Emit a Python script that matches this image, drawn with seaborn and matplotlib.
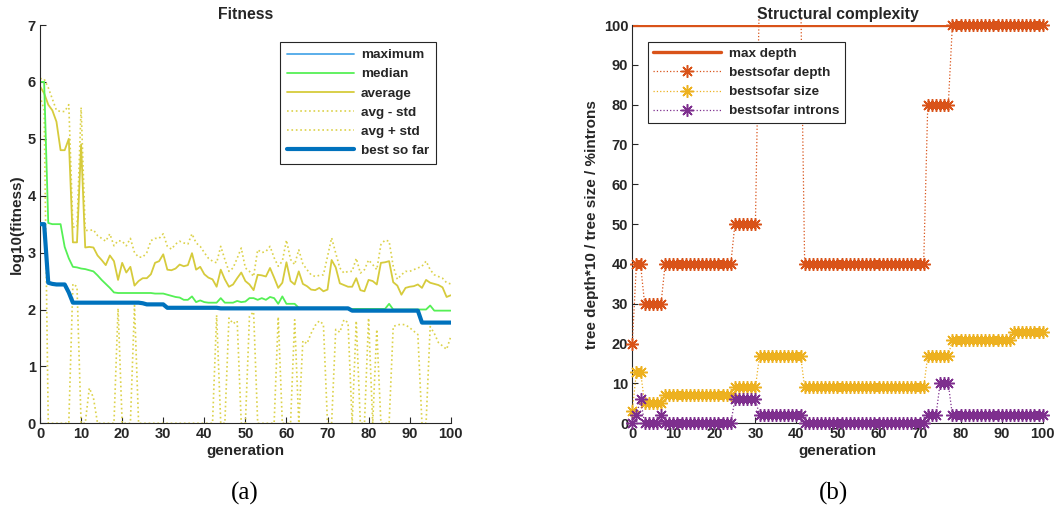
import matplotlib
matplotlib.use("Agg")
import matplotlib.pyplot as plt
from matplotlib.transforms import Bbox, TransformedBbox
import seaborn as sns
import pandas as pd

# ---------------- data ----------------
generation = list(range(101))

best_so_far = [3.50, 3.50, 2.47, 2.45, 2.44, 2.44, 2.44, 2.30, 2.12, 2.12,
               2.12, 2.12, 2.12, 2.12, 2.12, 2.12, 2.12, 2.12, 2.12, 2.12,
               2.12, 2.12, 2.12, 2.12, 2.12, 2.11, 2.09, 2.09, 2.09, 2.09,
               2.09, 2.03, 2.03, 2.03, 2.03, 2.03, 2.03, 2.03, 2.03, 2.03,
               2.03, 2.03, 2.03, 2.03, 2.02, 2.02, 2.02, 2.02, 2.02, 2.02,
               2.02, 2.02, 2.02, 2.02, 2.02, 2.02, 2.02, 2.02, 2.02, 2.02,
               2.02, 2.02, 2.02, 2.02, 2.02, 2.02, 2.02, 2.02, 2.02, 2.02,
               2.02, 2.02, 2.02, 2.02, 2.02, 2.02, 1.98, 1.98, 1.98, 1.98,
               1.98, 1.98, 1.98, 1.98, 1.98, 1.98, 1.98, 1.98, 1.98, 1.98,
               1.98, 1.98, 1.98, 1.77, 1.77, 1.77, 1.77, 1.77, 1.77, 1.77,
               1.77]

maximum = best_so_far

median = [6.00, 6.00, 3.52, 3.50, 3.50, 3.50, 3.10, 2.90, 2.75, 2.74,
          2.72, 2.71, 2.69, 2.67, 2.60, 2.52, 2.45, 2.38, 2.30, 2.29,
          2.29, 2.29, 2.29, 2.29, 2.29, 2.29, 2.29, 2.29, 2.28, 2.28,
          2.28, 2.26, 2.24, 2.22, 2.21, 2.17, 2.17, 2.23, 2.13, 2.16,
          2.13, 2.12, 2.12, 2.12, 2.20, 2.12, 2.12, 2.12, 2.15, 2.13,
          2.14, 2.20, 2.20, 2.17, 2.20, 2.17, 2.22, 2.20, 2.10, 2.23,
          2.10, 2.10, 2.10, 2.03, 2.03, 2.03, 2.03, 2.03, 2.03, 2.03,
          2.03, 2.03, 2.03, 2.03, 2.03, 2.01, 2.01, 2.01, 2.01, 2.01,
          2.01, 2.01, 2.01, 2.01, 2.01, 2.10, 2.00, 2.00, 2.00, 2.00,
          2.00, 2.00, 2.00, 2.00, 2.00, 2.07, 1.98, 1.98, 1.98, 1.98,
          1.98]

average = [5.92, 5.80, 5.60, 5.50, 5.30, 4.80, 4.80, 5.00, 3.18, 3.18,
           4.90, 3.09, 3.10, 3.09, 2.95, 2.87, 2.78, 2.95, 2.85, 2.52,
           2.82, 2.65, 2.75, 2.42, 2.50, 2.55, 2.55, 2.62, 2.82, 2.85,
           2.97, 2.70, 2.69, 2.72, 2.79, 2.76, 2.78, 2.99, 2.70, 2.75,
           2.62, 2.56, 2.53, 2.40, 2.70, 2.53, 2.40, 2.44, 2.55, 2.65,
           2.50, 2.44, 2.34, 2.61, 2.60, 2.58, 2.73, 2.56, 2.38, 2.47,
           2.83, 2.50, 2.44, 2.67, 2.45, 2.41, 2.35, 2.34, 2.38, 2.32,
           2.35, 2.87, 2.74, 2.46, 2.43, 2.40, 2.40, 2.55, 2.34, 2.32,
           2.52, 2.50, 2.44, 2.82, 2.83, 2.85, 2.48, 2.42, 2.26, 2.38,
           2.40, 2.41, 2.44, 2.38, 2.52, 2.47, 2.45, 2.43, 2.39, 2.22,
           2.25]

avg_plus_std = [6.06, 6.05, 5.90, 5.70, 5.50, 5.48, 5.48, 5.60, 3.45, 3.45,
                5.55, 3.39, 3.39, 3.40, 3.30, 3.25, 3.20, 3.33, 3.12, 3.21,
                3.20, 3.12, 3.25, 3.00, 2.92, 2.92, 3.00, 3.21, 3.25, 3.25,
                3.33, 3.11, 3.06, 3.15, 3.20, 3.17, 3.15, 3.33, 3.17, 3.11,
                3.00, 2.90, 2.85, 2.82, 3.11, 2.88, 2.67, 2.73, 2.90, 3.08,
                2.73, 2.67, 2.58, 3.05, 3.00, 3.02, 3.11, 2.91, 2.76, 2.85,
                3.22, 2.88, 2.79, 3.05, 2.80, 2.70, 2.61, 2.58, 2.60, 2.61,
                2.93, 3.26, 2.99, 2.73, 2.64, 2.67, 2.67, 2.90, 2.64, 2.70,
                2.87, 2.79, 2.70, 3.14, 3.22, 3.20, 2.76, 2.53, 2.61, 2.67,
                2.67, 2.70, 2.73, 2.76, 2.85, 2.70, 2.61, 2.58, 2.55, 2.47,
                2.45]

avg_minus_std = [5.75, 5.50, 0.00, 0.00, 0.00, 0.00, 0.00, 0.00, 2.45, 2.40,
                 0.00, 0.00, 0.62, 0.45, 0.00, 0.00, 0.00, 0.00, 0.00, 2.02,
                 0.00, 0.00, 0.00, 2.07, 0.00, 0.00, 0.00, 0.00, 0.00, 0.00,
                 0.00, 0.00, 0.00, 0.00, 0.00, 0.00, 0.00, 0.00, 0.00, 0.00,
                 0.00, 0.00, 0.00, 1.90, 0.00, 0.00, 1.85, 1.75, 1.80, 0.00,
                 0.00, 1.88, 1.96, 0.00, 0.00, 0.00, 0.00, 0.00, 1.87, 0.00,
                 0.00, 0.00, 1.82, 0.00, 1.45, 1.40, 1.58, 1.72, 1.80, 1.74,
                 0.00, 0.00, 1.65, 1.60, 1.82, 1.77, 0.00, 1.80, 0.00, 0.00,
                 1.85, 0.00, 1.65, 0.00, 0.00, 0.00, 1.70, 1.73, 1.74, 1.73,
                 1.68, 1.62, 1.56, 0.00, 0.00, 1.70, 1.58, 1.42, 1.36, 1.30,
                 1.52]

max_depth = [100, 100, 100, 100, 100, 100, 100, 100, 100, 100,
             100, 100, 100, 100, 100, 100, 100, 100, 100, 100,
             100, 100, 100, 100, 100, 100, 100, 100, 100, 100,
             100, 100, 100, 100, 100, 100, 100, 100, 100, 100,
             100, 100, 100, 100, 100, 100, 100, 100, 100, 100,
             100, 100, 100, 100, 100, 100, 100, 100, 100, 100,
             100, 100, 100, 100, 100, 100, 100, 100, 100, 100,
             100, 100, 100, 100, 100, 100, 100, 100, 100, 100,
             100, 100, 100, 100, 100, 100, 100, 100, 100, 100,
             100, 100, 100, 100, 100, 100, 100, 100, 100, 100,
             100]

bestsofar_depth = [20, 40, 40, 30, 30, 30, 30, 30, 40, 40,
                   40, 40, 40, 40, 40, 40, 40, 40, 40, 40,
                   40, 40, 40, 40, 40, 50, 50, 50, 50, 50,
                   50, 110, 110, 110, 110, 110, 110, 110, 110, 110,
                   110, 110, 40, 40, 40, 40, 40, 40, 40, 40,
                   40, 40, 40, 40, 40, 40, 40, 40, 40, 40,
                   40, 40, 40, 40, 40, 40, 40, 40, 40, 40,
                   40, 40, 80, 80, 80, 80, 80, 80, 100, 100,
                   100, 100, 100, 100, 100, 100, 100, 100, 100, 100,
                   100, 100, 100, 100, 100, 100, 100, 100, 100, 100,
                   100]

bestsofar_size = [3, 13, 13, 5, 5, 5, 5, 5, 7, 7,
                  7, 7, 7, 7, 7, 7, 7, 7, 7, 7,
                  7, 7, 7, 7, 7, 9, 9, 9, 9, 9,
                  9, 17, 17, 17, 17, 17, 17, 17, 17, 17,
                  17, 17, 9, 9, 9, 9, 9, 9, 9, 9,
                  9, 9, 9, 9, 9, 9, 9, 9, 9, 9,
                  9, 9, 9, 9, 9, 9, 9, 9, 9, 9,
                  9, 9, 17, 17, 17, 17, 17, 17, 21, 21,
                  21, 21, 21, 21, 21, 21, 21, 21, 21, 21,
                  21, 21, 21, 23, 23, 23, 23, 23, 23, 23,
                  23]

bestsofar_introns = [0, 2, 6, 0, 0, 0, 0, 2, 0, 0,
                     0, 0, 0, 0, 0, 0, 0, 0, 0, 0,
                     0, 0, 0, 0, 0, 6, 6, 6, 6, 6,
                     6, 2, 2, 2, 2, 2, 2, 2, 2, 2,
                     2, 2, 0, 0, 0, 0, 0, 0, 0, 0,
                     0, 0, 0, 0, 0, 0, 0, 0, 0, 0,
                     0, 0, 0, 0, 0, 0, 0, 0, 0, 0,
                     0, 0, 2, 2, 2, 10, 10, 10, 2, 2,
                     2, 2, 2, 2, 2, 2, 2, 2, 2, 2,
                     2, 2, 2, 2, 2, 2, 2, 2, 2, 2,
                     2]

x_ticks = [0, 10, 20, 30, 40, 50, 60, 70, 80, 90, 100]
y_ticks_left = [0, 1, 2, 3, 4, 5, 6, 7]
y_ticks_right = [0, 10, 20, 30, 40, 50, 60, 70, 80, 90, 100]

for arr in (best_so_far, median, average, avg_plus_std, avg_minus_std,
            max_depth, bestsofar_depth, bestsofar_size, bestsofar_introns):
    assert len(arr) == 101, len(arr)

# ---------------- style ----------------
sns.set_style("ticks")
plt.rcParams['font.family'] = ['Liberation Sans', 'DejaVu Sans']
plt.rcParams['font.weight'] = 'bold'
plt.rcParams['axes.labelweight'] = 'bold'
plt.rcParams['axes.titleweight'] = 'bold'
plt.rcParams['text.color'] = '#262626'
plt.rcParams['axes.labelcolor'] = '#262626'

AX_COL = '#262626'
C_MAX = '#4DA8E8'
C_MED = '#55F055'
C_AVG = '#D6CB3C'
C_STD = '#DCD24A'
C_BEST = '#0072BD'
C_OR = '#D95319'
C_YE = '#EDB120'
C_PU = '#7E2F8E'

TICK_FS = 10.5
LABEL_FS = 11
TITLE_FS = 11.3
LEG_FS = 9.7

fig = plt.figure(figsize=(10.62, 5.19), dpi=100)
ax1 = fig.add_axes([0.0377, 0.1844, 0.3867, 0.7674])
ax2 = fig.add_axes([0.5954, 0.1844, 0.3864, 0.7674])

dfl = pd.DataFrame({'generation': generation, 'maximum': maximum, 'median': median,
                    'average': average, 'avg_minus': avg_minus_std,
                    'avg_plus': avg_plus_std, 'best': best_so_far})

sns.lineplot(data=dfl, x='generation', y='maximum', ax=ax1, color=C_MAX,
             linewidth=1.3, label='maximum', zorder=2.4, estimator=None)
sns.lineplot(data=dfl, x='generation', y='median', ax=ax1, color=C_MED,
             linewidth=1.3, label='median', zorder=2.2, estimator=None)
sns.lineplot(data=dfl, x='generation', y='average', ax=ax1, color=C_AVG,
             linewidth=1.3, label='average', zorder=2.1, estimator=None)
sns.lineplot(data=dfl, x='generation', y='avg_minus', ax=ax1, color=C_STD,
             linewidth=1.2, linestyle=':', label='avg - std', zorder=1.5, estimator=None)
sns.lineplot(data=dfl, x='generation', y='avg_plus', ax=ax1, color=C_STD,
             linewidth=1.2, linestyle=':', label='avg + std', zorder=1.5, estimator=None)
sns.lineplot(data=dfl, x='generation', y='best', ax=ax1, color=C_BEST,
             linewidth=3.0, label='best so far', zorder=3, estimator=None)

ax1.set_xlim(0, 100)
ax1.set_ylim(0, 7)
ax1.set_xticks(x_ticks)
ax1.set_yticks(y_ticks_left)
ax1.set_xlabel('generation', fontsize=LABEL_FS, labelpad=2)
ax1.set_ylabel('log10(fitness)', fontsize=LABEL_FS, labelpad=3)
ax1.set_title('Fitness', fontsize=TITLE_FS, pad=4)

dfr = pd.DataFrame({'generation': generation, 'max_depth': max_depth,
                    'depth': bestsofar_depth, 'size': bestsofar_size,
                    'introns': bestsofar_introns})

star = (8, 2, 0)
sns.lineplot(data=dfr, x='generation', y='max_depth', ax=ax2, color=C_OR,
             linewidth=2.4, label='max depth', zorder=2.5, estimator=None)
clip_box = TransformedBbox(Bbox.from_extents(-0.03, -0.035, 1.03, 1.02), ax2.transAxes)
for col, c, lab in (('depth', C_OR, 'bestsofar depth'),
                    ('size', C_YE, 'bestsofar size'),
                    ('introns', C_PU, 'bestsofar introns')):
    sns.lineplot(data=dfr, x='generation', y=col, ax=ax2, color=c,
                 linewidth=0.9, linestyle=':', marker=star, markersize=9,
                 markeredgewidth=1.1, markeredgecolor=c, markerfacecolor=c,
                 label=lab, zorder=3, estimator=None)
    ln = ax2.lines[-1]
    ln.set_clip_on(True)
    ln.set_clip_box(clip_box)
    ln.set_clip_path(None)

ax2.set_xlim(0, 100)
ax2.set_ylim(0, 100)
ax2.set_xticks(x_ticks)
ax2.set_yticks(y_ticks_right)
ax2.set_xlabel('generation', fontsize=LABEL_FS, labelpad=2)
ax2.set_ylabel('tree depth*10 / tree size / %introns', fontsize=LABEL_FS, labelpad=3)
ax2.set_title('Structural complexity', fontsize=TITLE_FS, pad=4)

for ax in (ax1, ax2):
    sns.despine(ax=ax)
    for s in ('left', 'bottom'):
        ax.spines[s].set_color(AX_COL)
        ax.spines[s].set_linewidth(0.8)
    ax.tick_params(direction='in', length=4, width=0.8, color=AX_COL,
                   labelcolor=AX_COL, labelsize=TICK_FS, pad=3)
    for lbl in ax.get_xticklabels() + ax.get_yticklabels():
        lbl.set_fontweight('bold')

leg1 = ax1.legend(loc='upper right', bbox_to_anchor=(0.964, 0.957), borderaxespad=0,
                  fontsize=LEG_FS, handlelength=5.0, labelspacing=0.5, handletextpad=0.5,
                  borderpad=0.5, fancybox=False, framealpha=1, edgecolor=AX_COL)
leg1.get_frame().set_linewidth(0.8)

leg2 = ax2.legend(loc='upper left', bbox_to_anchor=(0.038, 0.957), borderaxespad=0,
                  fontsize=LEG_FS, handlelength=5.0, labelspacing=0.5, handletextpad=0.6,
                  borderpad=0.4, fancybox=False, framealpha=1, edgecolor=AX_COL,
                  numpoints=1)
leg2.get_frame().set_linewidth(0.8)
leg2.set_zorder(5)

fig.text(245 / 1062, 1 - 493 / 519, '(a)', ha='center', va='center', fontsize=18,
         family=['Liberation Serif', 'DejaVu Serif'], weight='normal', color='black')
fig.text(833 / 1062, 1 - 493 / 519, '(b)', ha='center', va='center', fontsize=18,
         family=['Liberation Serif', 'DejaVu Serif'], weight='normal', color='black')

fig.savefig('out.png', dpi=100)
